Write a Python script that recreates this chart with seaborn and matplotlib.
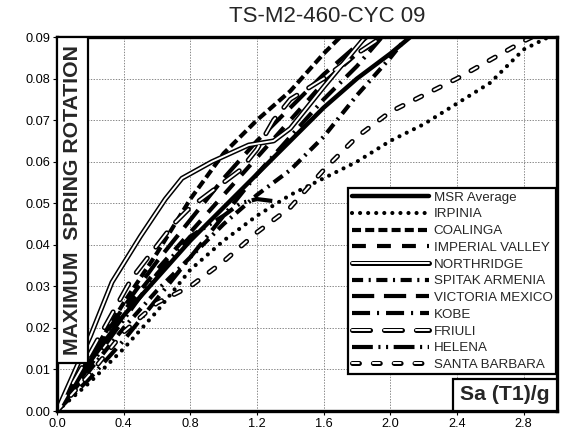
import matplotlib
matplotlib.use("Agg")
import matplotlib.pyplot as plt
import seaborn as sns
import numpy as np
from matplotlib.lines import Line2D
from matplotlib.patches import Rectangle
from matplotlib.legend_handler import HandlerTuple

sns.set_theme(style="white")
plt.rcParams['font.family'] = ['Liberation Sans', 'DejaVu Sans']
plt.rcParams['lines.scale_dashes'] = False

title = "TS-M2-460-CYC 09"

msr_x = [0, 0.2, 0.4, 0.6, 0.8, 1.0, 1.2, 1.4, 1.6, 1.8, 2.0, 2.12]
msr_y = [0, 0.012, 0.023, 0.032, 0.041, 0.049, 0.057, 0.065, 0.073, 0.080, 0.086, 0.09]

irp_x = [0, 0.2, 0.4, 0.6, 0.8, 1.0, 1.2, 1.4, 1.6, 1.8, 2.0, 2.2, 2.4, 2.6, 2.8, 2.95]
irp_y = [0, 0.007, 0.015, 0.024, 0.034, 0.041, 0.047, 0.052, 0.056, 0.060, 0.065, 0.069, 0.074, 0.079, 0.087, 0.09]

coa_x = [0, 0.2, 0.4, 0.6, 0.8, 1.0, 1.2, 1.4, 1.6, 1.7]
coa_y = [0, 0.013, 0.026, 0.038, 0.051, 0.062, 0.070, 0.077, 0.086, 0.09]

imp_x = [0, 0.2, 0.4, 0.6, 0.8, 1.0, 1.2, 1.4, 1.6, 1.8, 1.97]
imp_y = [0, 0.012, 0.024, 0.034, 0.043, 0.052, 0.061, 0.070, 0.079, 0.086, 0.09]

nor_x = [0, 0.1, 0.2, 0.33, 0.5, 0.65, 0.75, 0.93, 1.15, 1.3, 1.4, 1.6, 1.85]
nor_y = [0, 0.009, 0.018, 0.031, 0.042, 0.051, 0.056, 0.060, 0.064, 0.065, 0.068, 0.078, 0.09]

spi_x = [0, 0.2, 0.4, 0.6, 0.8, 1.0, 1.2, 1.4, 1.6, 1.8, 2.0, 2.1]
spi_y = [0, 0.010, 0.020, 0.029, 0.037, 0.045, 0.052, 0.058, 0.066, 0.076, 0.085, 0.09]

vic_x = [0, 0.2, 0.4, 0.6, 0.8, 1.0, 1.2, 1.4, 1.6, 1.8, 1.86]
vic_y = [0, 0.013, 0.025, 0.036, 0.046, 0.056, 0.065, 0.073, 0.081, 0.088, 0.09]

kob_x = [0, 0.2, 0.4, 0.6, 0.8, 1.0, 1.2, 1.4, 1.6, 1.8, 1.95]
kob_y = [0, 0.008, 0.017, 0.027, 0.037, 0.047, 0.057, 0.066, 0.075, 0.083, 0.09]

fri_x = [0, 0.2, 0.45, 0.7, 0.8, 0.9, 1.0, 1.1, 1.2, 1.3, 1.4, 1.6, 1.8, 1.95]
fri_y = [0, 0.014, 0.032, 0.045, 0.049, 0.052, 0.055, 0.058, 0.063, 0.070, 0.075, 0.080, 0.086, 0.09]

hel_x = [0, 0.2, 0.4, 0.6, 0.8, 1.0, 1.1, 1.2, 1.3]
hel_y = [0, 0.011, 0.022, 0.033, 0.042, 0.047, 0.050, 0.051, 0.0505]

sb_x = [0, 0.2, 0.4, 0.6, 0.8, 1.0, 1.2, 1.4, 1.6, 1.8, 2.0, 2.2, 2.4, 2.6, 2.8, 2.85]
sb_y = [0, 0.009, 0.019, 0.026, 0.030, 0.036, 0.043, 0.049, 0.058, 0.066, 0.072, 0.076, 0.080, 0.0845, 0.089, 0.09]

x_ticks = [0.0, 0.4, 0.8, 1.2, 1.6, 2.0, 2.4, 2.8]
y_ticks = [0.00, 0.01, 0.02, 0.03, 0.04, 0.05, 0.06, 0.07, 0.08, 0.09]

series = [
    ("MSR Average", msr_x, msr_y, dict(lw=3.2, ls="-"), False),
    ("IRPINIA", irp_x, irp_y, dict(lw=3.0, ls=(0, (0.01, 5.8)), dash_capstyle="round"), False),
    ("COALINGA", coa_x, coa_y, dict(lw=3.0, ls=(0, (6.5, 3.0))), False),
    ("IMPERIAL VALLEY", imp_x, imp_y, dict(lw=3.0, ls=(0, (10, 8))), False),
    ("NORTHRIDGE", nor_x, nor_y, dict(ls="-"), True),
    ("SPITAK ARMENIA", spi_x, spi_y, dict(lw=3.0, ls=(0, (8, 4, 1.5, 4))), False),
    ("VICTORIA MEXICO", vic_x, vic_y, dict(lw=3.0, ls=(0, (16, 7))), False),
    ("KOBE", kob_x, kob_y, dict(lw=3.0, ls=(0, (13, 5, 1.5, 5))), False),
    ("FRIULI", fri_x, fri_y, dict(ls=(0, (13, 10))), True),
    ("HELENA", hel_x, hel_y, dict(lw=3.0, ls=(0, (15, 4, 1.5, 4, 1.5, 4))), False),
    ("SANTA BARBARA", sb_x, sb_y, dict(ls=(0, (5, 10))), True),
]

fig = plt.figure(figsize=(5.63, 4.45), dpi=100)
ax = fig.add_axes([57/563, 1-411/445, 500/563, 374/445])

handles = []
for name, xs, ys, st, outlined in series:
    if outlined:
        sns.lineplot(x=xs, y=ys, ax=ax, color="black", lw=3.6, linestyle=st["ls"],
                     dash_capstyle="round", solid_capstyle="round", zorder=3)
        sns.lineplot(x=xs, y=ys, ax=ax, color="white", lw=1.4, linestyle=st["ls"],
                     dash_capstyle="round", solid_capstyle="round", zorder=4)
        h = (Line2D([], [], color="black", lw=3.6, linestyle=st["ls"], dash_capstyle="round", solid_capstyle="round"),
             Line2D([], [], color="white", lw=1.4, linestyle=st["ls"], dash_capstyle="round", solid_capstyle="round"))
    else:
        extra = {k: v for k, v in st.items() if k not in ("lw", "ls")}
        sns.lineplot(x=xs, y=ys, ax=ax, color="black", lw=st["lw"], linestyle=st["ls"], zorder=3, **extra)
        h = Line2D([], [], color="black", lw=st["lw"], linestyle=st["ls"], **extra)
    handles.append(h)

ax.set_xlim(0, 3.0)
ax.set_ylim(0, 0.09)
ax.set_xticks(x_ticks)
ax.set_xticklabels([f"{v:.1f}" for v in x_ticks])
ax.set_yticks(y_ticks)
ax.set_yticklabels([f"{v:.2f}" for v in y_ticks])
ax.tick_params(axis="both", labelsize=9.2, colors="black", length=3, width=0.8, direction="out", pad=2,
               bottom=True, left=True)
ax.grid(True, color="#888888", linestyle=(0, (1, 1)), lw=0.7)
ax.set_xlabel("")
ax.set_ylabel("")
for s in ax.spines.values():
    s.set_linewidth(2.4)
    s.set_color("black")
    s.set_zorder(6)

# y label box
ax.add_patch(Rectangle((0, 0.128), 0.062, 0.872, transform=ax.transAxes, facecolor="white",
                       edgecolor="black", lw=1.6, zorder=7))
ax.text(0.032, 0.564, "MAXIMUM  SPRING ROTATION", transform=ax.transAxes, rotation=90,
        ha="center", va="center", fontsize=15.3, fontweight="bold", zorder=8)

# x label box
ax.add_patch(Rectangle((0.792, 0), 0.208, 0.0856, transform=ax.transAxes, facecolor="white",
                       edgecolor="black", lw=1.6, zorder=7))
ax.text(0.896, 0.043, "Sa (T1)/g", transform=ax.transAxes, ha="center", va="center",
        fontsize=15.3, fontweight="bold", zorder=8)

leg = ax.legend(handles, [s[0] for s in series], loc="upper right", bbox_to_anchor=(0.998, 0.596),
                fontsize=9.6, frameon=True, fancybox=False, edgecolor="black", framealpha=1,
                handlelength=5.8, handletextpad=0.35, labelspacing=0.33, borderpad=0.25,
                borderaxespad=0, handler_map={tuple: HandlerTuple(ndivide=1)})
leg.get_frame().set_linewidth(1.6)
leg.set_zorder(9)

fig.text(327/563, 1-16/445, title, ha="center", va="center", fontsize=16)

fig.savefig("out.png", dpi=100)
